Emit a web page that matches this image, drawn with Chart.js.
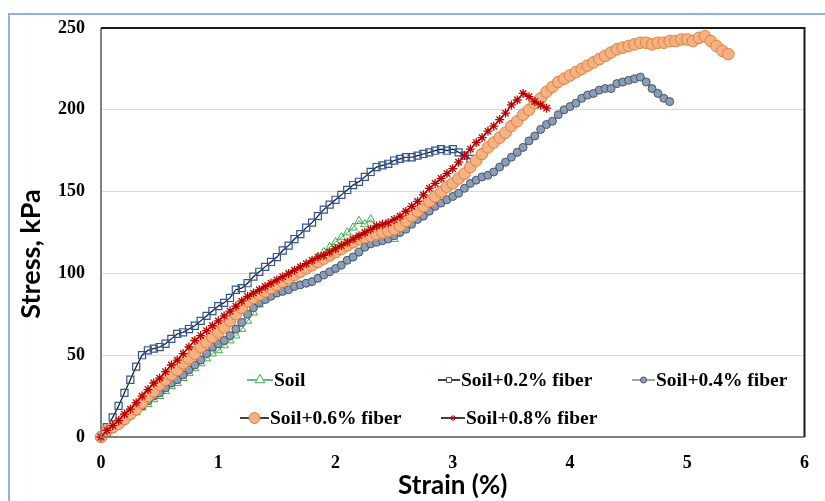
<!DOCTYPE html>
<html>
<head>
<meta charset="utf-8">
<script src="https://cdn.jsdelivr.net/npm/chart.js"></script>
<style>
    html, body { margin: 0; padding: 0; background: #fff; overflow: hidden; }
    #frame { position: absolute; left: 8px; top: 13px; width: 900px; height: 600px; border-left: 2px solid #8db3e2; border-top: 2px solid #8db3e2; }
    #wrap { position: absolute; left: 0; top: 0; width: 825px; height: 501px; }
</style>
</head>
<body>
<div id="frame"></div>
<div id="wrap"><canvas id="chart" width="825" height="501"></canvas></div>
<script>
// strain grid (%) shared by all series
const strain = [
    0, 0.05, 0.1, 0.15, 0.2, 0.25, 0.3, 0.35, 0.4, 0.45,
    0.5, 0.55, 0.6, 0.65, 0.7, 0.75, 0.8, 0.85, 0.9, 0.95,
    1, 1.05, 1.1, 1.15, 1.2, 1.25, 1.3, 1.35, 1.4, 1.45,
    1.5, 1.55, 1.6, 1.65, 1.7, 1.75, 1.8, 1.85, 1.9, 1.95,
    2, 2.05, 2.1, 2.15, 2.2, 2.25, 2.3, 2.35, 2.4, 2.45,
    2.5, 2.55, 2.6, 2.65, 2.7, 2.75, 2.8, 2.85, 2.9, 2.95,
    3, 3.05, 3.1, 3.15, 3.2, 3.25, 3.3, 3.35, 3.4, 3.45,
    3.5, 3.55, 3.6, 3.65, 3.7, 3.75, 3.8, 3.85, 3.9, 3.95,
    4, 4.05, 4.1, 4.15, 4.2, 4.25, 4.3, 4.35, 4.4, 4.45,
    4.5, 4.55, 4.6, 4.65, 4.7, 4.75, 4.8, 4.85, 4.9, 4.95,
    5, 5.05, 5.1, 5.15, 5.2, 5.25, 5.3, 5.35
];

// stress (kPa)
const soil = [0, 2, 5, 8, 10, 13, 15, 18, 20, 23, 25, 28, 31, 33, 36, 39, 42, 45, 48, 51,
    53, 56, 59, 62, 66, 71, 76, 81, 84, 87, 90, 93, 96, 99, 101, 104, 107, 110, 113, 116,
    119, 122, 125, 128, 132, 130, 133, 128, 126, 123, 121];
const fiber02 = [0, 6, 12, 19, 27, 35, 43, 50, 53, 54, 55, 57, 60, 63, 64, 66, 68, 71, 74, 77,
    80, 82, 85, 90, 91, 94, 98, 101, 104, 107, 110, 114, 117, 121, 124, 128, 131, 135, 139, 142,
    145, 148, 151, 154, 156, 159, 162, 165, 166, 167, 169, 170, 171, 171, 172, 173, 174, 175, 176, 175,
    176, 174, 172, 170];
const fiber04 = [0, 2, 5, 8, 10, 13, 16, 19, 22, 25, 27, 30, 33, 35, 38, 41, 44, 47, 51, 55,
    57, 59, 62, 66, 70, 75, 79, 82, 84, 86, 88, 89, 90, 92, 93, 94, 95, 97, 99, 101,
    103, 105, 108, 110, 113, 116, 118, 119, 120, 121, 123, 125, 127, 130, 133, 135, 138, 141, 143, 145,
    147, 149, 152, 155, 157, 159, 160, 162, 165, 168, 171, 174, 177, 181, 184, 188, 191, 193, 197, 200,
    202, 204, 207, 209, 210, 212, 213, 213, 216, 217, 218, 219, 220, 217, 213, 210, 207, 205];
const fiber06 = [0, 4, 6, 8, 11, 14, 17, 21, 25, 28, 32, 35, 38, 41, 45, 48, 51, 55, 58, 61,
    64, 67, 71, 75, 79, 83, 85, 87, 89, 91, 93, 95, 97, 99, 101, 103, 105, 107, 109, 111,
    113, 115, 117, 119, 121, 122, 123, 124, 125, 126, 127, 129, 132, 135, 138, 141, 144, 147, 150, 153,
    155, 158, 161, 165, 169, 173, 177, 180, 183, 186, 190, 193, 197, 200, 204, 207, 211, 214, 217, 219,
    221, 223, 225, 227, 229, 231, 233, 235, 237, 238, 239, 240, 241, 241, 240, 241, 241, 242, 242, 243,
    243, 242, 244, 245, 242, 239, 236, 234];
const fiber08 = [0, 4, 7, 10, 14, 17, 21, 25, 29, 33, 36, 40, 44, 47, 51, 55, 59, 62, 65, 68,
    71, 74, 77, 80, 83, 86, 88, 90, 92, 94, 96, 98, 100, 102, 104, 106, 108, 110, 111, 113,
    115, 117, 119, 121, 123, 125, 127, 129, 130, 131, 133, 135, 138, 141, 144, 148, 152, 155, 158, 161,
    164, 168, 172, 176, 180, 183, 187, 190, 194, 198, 203, 206, 210, 208, 205, 203, 201];

const seriesNames = ['Soil', 'Soil+0.2% fiber', 'Soil+0.4% fiber', 'Soil+0.6% fiber', 'Soil+0.8% fiber'];
const xTicks = [0, 1, 2, 3, 4, 5, 6];
const yTicks = [0, 50, 100, 150, 200, 250];

function toPoints(values) {
    return values.map((v, i) => ({ x: strain[i], y: v }));
}

const tickFont = { family: '"Liberation Serif", "Times New Roman", serif', size: 18, weight: 'bold' };
const legendFont = 'bold 19.5px "Liberation Serif", "Times New Roman", serif';

// legend grid as in the original (two rows inside the plot)
const legendSlots = [
    { ds: 0, x1: 247, x2: 273, y: 380 },
    { ds: 1, x1: 438, x2: 460, y: 380 },
    { ds: 2, x1: 632, x2: 655, y: 380 },
    { ds: 3, x1: 240, x2: 269, y: 418 },
    { ds: 4, x1: 441, x2: 465, y: 418 }
];

const framePlugin = {
    id: 'frame',
    afterDatasetsDraw(chart) {
        const { ctx, chartArea: a } = chart;
        ctx.save();
        ctx.lineWidth = 2;
        ctx.strokeStyle = '#7f7f7f';
        ctx.beginPath();
        ctx.moveTo(a.left, a.top);
        ctx.lineTo(a.left, a.bottom);
        ctx.lineTo(a.right, a.bottom);
        ctx.stroke();
        ctx.strokeStyle = '#1a1a1a';
        ctx.beginPath();
        ctx.moveTo(a.left, a.top);
        ctx.lineTo(a.right, a.top);
        ctx.lineTo(a.right, a.bottom);
        ctx.stroke();

        // legend
        ctx.fillStyle = '#fff';
        ctx.fillRect(236, 364, 562, 70);
        legendSlots.forEach(function (s) {
            const ds = chart.data.datasets[s.ds];
            ctx.strokeStyle = ds.legendLine;
            ctx.lineWidth = 1.6;
            ctx.beginPath();
            ctx.moveTo(s.x1, s.y);
            ctx.lineTo(s.x2, s.y);
            ctx.stroke();
            ctx.fillStyle = ds.legendFill;
            ctx.strokeStyle = ds.pointBorderColor;
            ctx.lineWidth = 1;
            Chart.helpers.drawPoint(ctx, { pointStyle: ds.pointStyle, radius: ds.legendRadius, borderWidth: 1, rotation: 0 }, (s.x1 + s.x2) / 2, s.y);
            ctx.fillStyle = '#000';
            ctx.font = legendFont;
            ctx.textAlign = 'left';
            ctx.textBaseline = 'middle';
            ctx.fillText(ds.label, s.x2 + 1, s.y + 1);
        });

        // y axis title
        ctx.translate(31, 254);
        ctx.rotate(-Math.PI / 2);
        ctx.font = 'bold 27px Lato, "Open Sans", sans-serif';
        ctx.textAlign = 'center';
        ctx.textBaseline = 'middle';
        ctx.fillStyle = '#000';
        ctx.fillText('Stress, kPa', 0, 0);
        ctx.restore();
    }
};

let ctx = document.getElementById('chart').getContext('2d');
let chart = new Chart(ctx, {
    type: 'line',
    data: {
        datasets: [{
            label: seriesNames[0],
            data: toPoints(soil),
            borderColor: '#3fae49',
            borderWidth: 1,
            pointStyle: 'triangle',
            pointRadius: 4.8,
            pointBackgroundColor: 'rgba(0,0,0,0)',
            pointBorderColor: '#3fae49',
            pointBorderWidth: 1,
            legendLine: '#3fae49',
            legendFill: '#fff',
            legendRadius: 5.5,
            order: 4
        }, {
            label: seriesNames[1],
            data: toPoints(fiber02),
            borderColor: '#111',
            borderWidth: 1.2,
            pointStyle: 'rect',
            pointRadius: 5,
            pointBackgroundColor: 'rgba(0,0,0,0)',
            pointBorderColor: '#2f5597',
            pointBorderWidth: 1.2,
            legendLine: '#111',
            legendFill: '#fff',
            legendRadius: 3.5,
            order: 3
        }, {
            label: seriesNames[2],
            data: toPoints(fiber04),
            borderColor: '#7f7f7f',
            borderWidth: 1.2,
            pointStyle: 'circle',
            pointRadius: 4,
            pointBackgroundColor: '#8c9db5',
            pointBorderColor: '#44546a',
            pointBorderWidth: 1,
            legendLine: '#8c8c8c',
            legendFill: '#8c9db5',
            legendRadius: 3,
            order: 2
        }, {
            label: seriesNames[3],
            data: toPoints(fiber06),
            borderColor: '#111',
            borderWidth: 1.2,
            pointStyle: 'circle',
            pointRadius: 5.8,
            pointBackgroundColor: '#f4b183',
            pointBorderColor: '#e0803a',
            pointBorderWidth: 1,
            legendLine: '#111',
            legendFill: '#f4b183',
            legendRadius: 5.5,
            order: 1
        }, {
            label: seriesNames[4],
            data: toPoints(fiber08),
            borderColor: '#8b0000',
            borderWidth: 1.5,
            pointStyle: 'star',
            pointRadius: 4.5,
            pointBackgroundColor: '#c00000',
            pointBorderColor: '#c00000',
            pointBorderWidth: 1.3,
            legendLine: '#111',
            legendFill: '#c00000',
            legendRadius: 3,
            order: 0
        }]
    },
    options: {
        responsive: false,
        animation: false,
        clip: false,
        layout: { padding: { left: 0, top: 28, right: 19, bottom: 0 } },
        plugins: { legend: { display: false }, tooltip: { enabled: false } },
        scales: {
            x: {
                type: 'linear',
                min: 0,
                max: 6,
                afterFit: function (s) { s.height = 64; },
                afterBuildTicks: function (s) { s.ticks = xTicks.map(v => ({ value: v })); },
                ticks: { font: tickFont, color: '#000', padding: 16, maxRotation: 0 },
                grid: { display: false, drawTicks: false },
                border: { display: false },
                title: {
                    display: true,
                    text: 'Strain (%)',
                    color: '#000',
                    font: { family: 'Lato, "Open Sans", sans-serif', size: 26, weight: 'bold' },
                    padding: { top: 0, bottom: 0 }
                }
            },
            y: {
                type: 'linear',
                min: 0,
                max: 250,
                afterFit: function (s) { s.width = 101; },
                afterBuildTicks: function (s) { s.ticks = yTicks.map(v => ({ value: v })); },
                ticks: { font: tickFont, color: '#000', padding: 16 },
                grid: { color: '#d9d9d9', lineWidth: 1, drawTicks: false },
                border: { display: false }
            }
        }
    },
    plugins: [framePlugin]
});
</script>
</body>
</html>
